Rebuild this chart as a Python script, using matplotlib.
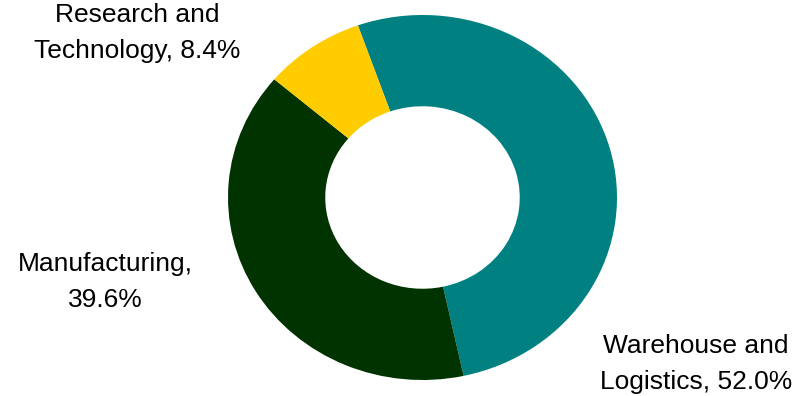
import matplotlib
matplotlib.use("Agg")
import matplotlib.pyplot as plt

categories = ["Warehouse and\nLogistics", "Manufacturing", "Research and\nTechnology"]
shares = [52.0, 39.6, 8.4]
colors = ["#008080", "#003300", "#FFCC00"]
label_texts = ["Warehouse and\nLogistics, 52.0%", "Manufacturing,\n39.6%", "Research and\nTechnology, 8.4%"]
label_pos = [(696, 364), (105, 282), (137, 33)]

fig = plt.figure(figsize=(8.05, 3.96), dpi=100)
W, H = 805, 396
ax = fig.add_axes([228 / W, 1 - 380 / H, 389 / W, 365 / H])
ax.pie(shares, colors=colors, startangle=109.4, counterclock=False,
       radius=1.0, wedgeprops=dict(width=0.5, linewidth=0))
ax.set_aspect("auto")
ax.set_xlim(-1, 1)
ax.set_ylim(-1, 1)
ax.axis("off")

for txt, (px, py) in zip(label_texts, label_pos):
    fig.text(px / W, 1 - py / H, txt, ha="center", va="center", multialignment="center",
             fontsize=19, family="Liberation Sans", linespacing=1.6, color="black")

fig.savefig("out.png", dpi=100)
